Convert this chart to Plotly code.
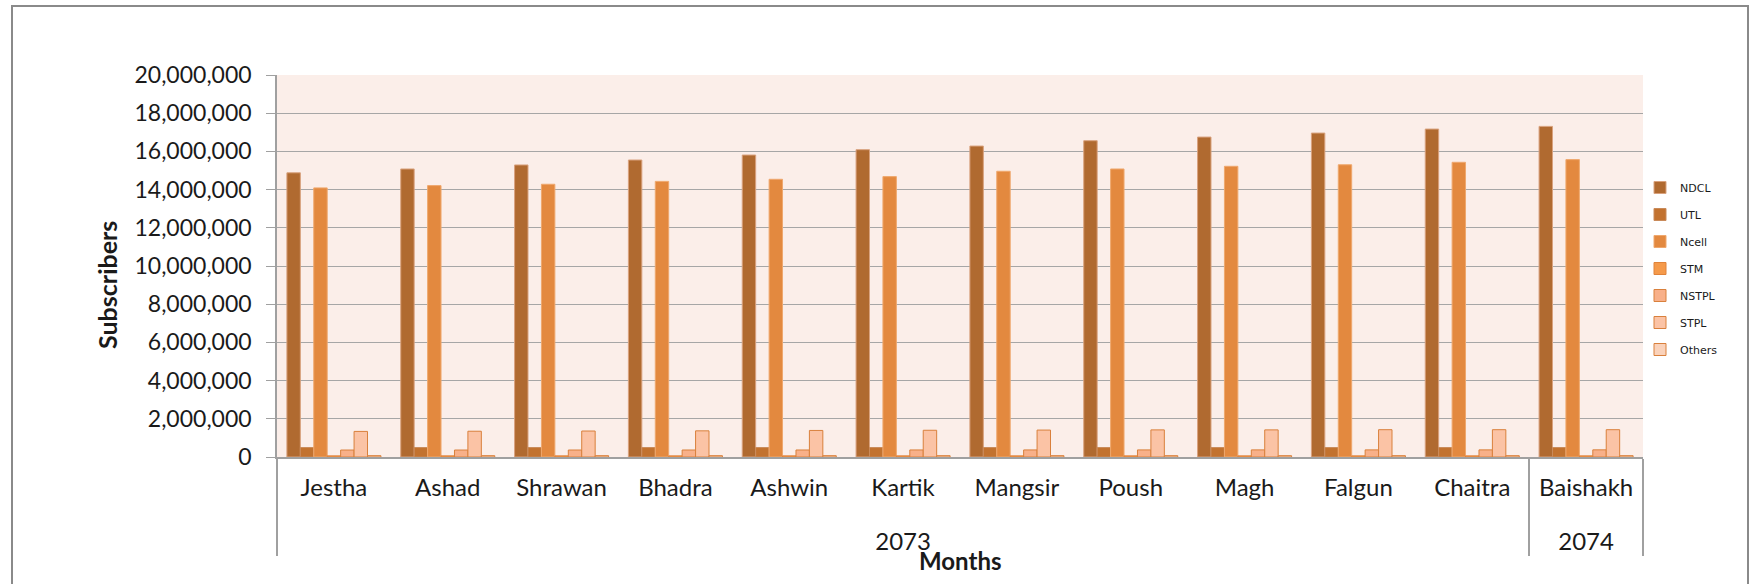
import plotly.graph_objects as go

years = ["2073"] * 11 + ["2074"]
months = ["Jestha", "Ashad", "Shrawan", "Bhadra", "Ashwin", "Kartik", "Mangsir",
          "Poush", "Magh", "Falgun", "Chaitra", "Baishakh"]

series_names = ["NDCL", "UTL", "Ncell", "STM", "NSTPL", "STPL", "Others"]

ndcl = [14880000, 15080000, 15290000, 15550000, 15810000, 16090000, 16280000,
        16560000, 16750000, 16960000, 17170000, 17310000]
utl = [495000, 495000, 495000, 495000, 495000, 495000, 495000,
       495000, 495000, 495000, 495000, 495000]
ncell = [14090000, 14210000, 14280000, 14430000, 14540000, 14680000, 14960000,
         15080000, 15220000, 15300000, 15430000, 15570000]
stm = [60000, 60000, 60000, 60000, 60000, 60000, 60000,
       60000, 60000, 60000, 60000, 60000]
nstpl = [365000, 365000, 366000, 367000, 368000, 369000, 370000,
         371000, 372000, 373000, 374000, 375000]
stpl = [1340000, 1350000, 1360000, 1370000, 1390000, 1400000, 1410000,
        1420000, 1420000, 1430000, 1430000, 1430000]
others = [70000, 70000, 70000, 70000, 70000, 70000, 70000,
          70000, 70000, 70000, 70000, 70000]

values = [ndcl, utl, ncell, stm, nstpl, stpl, others]
fill_colors = ["#B06A30", "#C2722F", "#E3893F", "#F59A4A", "#F8B089", "#FBC3A5", "#FAD2BA"]
line_colors = ["#D9A27E", "#C98A5A", "#EFA86E", "#E0833A", "#D9803C", "#D9803C", "#D9803C"]

# month labels get an empty second line so the year row sits lower, as in the original
month_labels = [m + "<br> " for m in months]

fig = go.Figure()
for i, name in enumerate(series_names):
    fig.add_trace(go.Bar(
        x=[years, month_labels],
        y=values[i],
        name=name,
        legendgroup=name,
        marker=dict(color=fill_colors[i], line=dict(color=line_colors[i], width=1)),
    ))

W, H = 1750, 584
L, R, T, B = 277, 1643, 75, 457
pw, ph = R - L, B - T

def px_x(x):
    return (x - L) / pw

def px_y(y):
    return (B - y) / ph

fig.update_layout(
    width=W, height=H,
    margin=dict(l=L, r=W - R, t=T, b=H - B, autoexpand=False),
    paper_bgcolor="white",
    plot_bgcolor="#FBEEE9",
    barmode="group",
    bargap=0.174,
    bargroupgap=0,
    font=dict(family="Lato", color="#1a1a1a"),
    showlegend=True,
    legend=dict(
        xref="container", yref="container",
        x=1640 / W, y=1 - 173 / H,
        xanchor="left", yanchor="top",
        font=dict(family="DejaVu Sans", size=11, color="#1a1a1a"),
        tracegroupgap=8,
        bgcolor="rgba(0,0,0,0)",
    ),
    xaxis=dict(
        type="multicategory",
        showdividers=True,
        dividercolor="#A0A0A0",
        dividerwidth=1.5,
        showline=True,
        linecolor="#A0A0A0",
        linewidth=1.5,
        showgrid=False,
        ticks="",
        ticklabelstandoff=8,
        tickfont=dict(family="Lato", size=24, color="#1a1a1a"),
    ),
    yaxis=dict(
        range=[0, 20000000],
        tickvals=list(range(0, 20000001, 2000000)),
        tickformat=",d",
        showgrid=True,
        gridcolor="#A6A6A6",
        gridwidth=1.3,
        showline=True,
        linecolor="#A0A0A0",
        linewidth=1.5,
        ticks="outside",
        ticklen=9,
        tickcolor="#A0A0A0",
        ticklabelstandoff=10,
        tickfont=dict(family="Lato", size=23, color="#1a1a1a"),
        zeroline=False,
    ),
    annotations=[
        dict(text="<b>Months</b>", xref="paper", yref="paper",
             x=0.5, y=px_y(560), xanchor="center", yanchor="middle",
             showarrow=False, font=dict(family="Lato", size=24, color="#1a1a1a")),
        dict(text="<b>Subscribers</b>", xref="paper", yref="paper",
             x=px_x(107), y=px_y(285), xanchor="center", yanchor="middle",
             textangle=-90, showarrow=False,
             font=dict(family="Lato", size=25, color="#1a1a1a")),
    ],
    shapes=[
        dict(type="rect", xref="paper", yref="paper",
             x0=px_x(12), x1=px_x(1748), y0=px_y(620), y1=px_y(6),
             line=dict(color="#8A8A8A", width=2), fillcolor="rgba(0,0,0,0)", layer="below"),
    ],
)

fig.write_html("out.html", config={"displayModeBar": False},
               post_script="document.body.style.margin='0';")
